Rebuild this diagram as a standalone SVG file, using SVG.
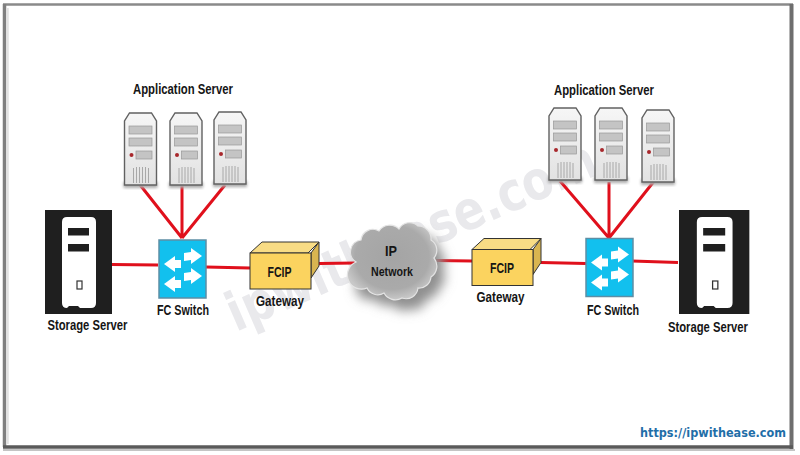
<svg xmlns="http://www.w3.org/2000/svg" xmlns:xlink="http://www.w3.org/1999/xlink" width="800" height="455" viewBox="0 0 800 455">
<style>
.lbl{font-family:"Liberation Sans",Arial,sans-serif;font-weight:700;font-size:15.500px;fill:#151515;text-anchor:middle}
.link{stroke:#e0101c;stroke-width:3;fill:none}
.bar{fill:#c4c4c4;stroke:#999;stroke-width:.7}
</style>
<defs>
<filter id="blur" x="-40%" y="-40%" width="180%" height="180%"><feGaussianBlur stdDeviation="6"/></filter>
<filter id="sblur" x="-30%" y="-30%" width="160%" height="160%"><feGaussianBlur stdDeviation="1.500"/></filter>
<linearGradient id="srv" x1="0" y1="0" x2="0" y2="1"><stop offset="0" stop-color="#f6f6f6"/><stop offset="1" stop-color="#e2e2e2"/></linearGradient>
<radialGradient id="cl" cx="50%" cy="45%" r="55%"><stop offset="0" stop-color="#a4a4a4"/><stop offset=".75" stop-color="#aaaaaa"/><stop offset="1" stop-color="#c8c8c8"/></radialGradient>
<g id="server">
<rect x="-1" y="69" width="34" height="6" fill="#aaa" filter="url(#sblur)"/>
<path d="M5 0H27L32 8V72H0V8Z" fill="url(#srv)" stroke="#616161" stroke-width="1.400"/>
<rect class="bar" x="4.500" y="13" width="23" height="8"/>
<rect class="bar" x="4.500" y="25" width="23" height="8"/>
<rect class="bar" x="11.500" y="38" width="16" height="8"/>
<circle cx="7" cy="42" r="2" fill="#a8282c"/>
<path d="M9 55V70M12 54V70M15 54V70M18 54V70M21 54V70M24 55V70" stroke="#a8a8a8" stroke-width="1"/>
</g>
<g id="storage">
<rect x="0" y="0" width="67" height="104" fill="#1f1f1f"/>
<path d="M22 98L24 96H33L35 98H46Q51 98 51 93V12Q51 7 46 7H22Q17 7 17 12V93Q17 98 22 98Z" fill="#fff"/>
<rect x="23" y="18" width="21" height="7.500" fill="#1f1f1f"/>
<rect x="23" y="34" width="21" height="7.500" fill="#1f1f1f"/>
<rect x="32" y="71" width="5" height="8" fill="#fff" stroke="#333" stroke-width="1.200"/>
</g>
<g id="switch">
<rect x="0" y="0" width="47" height="58" fill="#12c0ee" stroke="#5d8ea5" stroke-width="1.500"/>
<path d="M43 16L32 8V12L25 13V21L32 20V24ZM5 24L16 16V20L22 20V28L16 28V32ZM43 36L32 28V32L25 33V41L32 40V44ZM5 44L16 36V40L22 40V48L16 48V52Z" fill="#fff"/>
</g>
<g id="gateway">
<path d="M0 11L12 0H69L58 11Z" fill="#f8dc85" stroke="#333" stroke-width="1"/>
<path d="M61 11L69 0V24L61 36Z" fill="#d9b550" stroke="#333" stroke-width="1"/>
<rect x="0" y="11" width="61" height="36" fill="#fbd35f" stroke="#333" stroke-width="1"/>
</g>
<path id="cloudP" d="M356 262A12 12 0 0 1 361 240A12 12 0 0 1 379 231A13 13 0 0 1 399 229A12 12 0 0 1 418 226A13 13 0 0 1 431 240A12 12 0 0 1 434 258A13 13 0 0 1 431 277A12 12 0 0 1 418 288A12 12 0 0 1 402 298A13 13 0 0 1 384 293A12 12 0 0 1 367 288A13 13 0 0 1 356 262Z"/>
</defs>
<rect width="800" height="455" fill="#fff"/>
<path d="M3 4.500H793" stroke="#8a8a8a" stroke-width="2.500" fill="none"/>
<path d="M4.500 4V447" stroke="#808080" stroke-width="3.500" fill="none"/>
<path d="M7.500 8V444" stroke="#e2e2e2" stroke-width="2.500" fill="none"/>
<path d="M791.500 4V449" stroke="#6e6e6e" stroke-width="4" fill="none"/>
<path d="M3 447H793" stroke="#5a5a5a" stroke-width="3.500" fill="none"/>
<path d="M3 450H795" stroke="#c4c4c4" stroke-width="2" fill="none"/>
<text id="watermark" x="0" y="0" transform="translate(236 332) rotate(-23.500)" font-family="DejaVu Sans,sans-serif" font-weight="700" font-size="54" fill="#e9e9ec" textLength="398" lengthAdjust="spacingAndGlyphs">ipwithease.com</text>
<g id="connectors">
<path class="link" d="M112 264.500L158 265"/>
<path class="link" d="M206 267L250 268"/>
<path class="link" d="M319 263.500L355 263"/>
<path class="link" d="M435 260.500L472 261"/>
<path class="link" d="M541 262.500L586 263.500"/>
<path class="link" d="M632 261L678 262.500"/>
<path class="link" d="M137 181L182 238M182 182V238M225 185L182 238"/>
<path class="link" d="M560 181L609 238M609 182V238M655 180L609 238"/>
</g>
<g id="app-left"><use xlink:href="#server" href="#server" x="124.500" y="113"/><use xlink:href="#server" href="#server" x="170" y="113"/><use xlink:href="#server" href="#server" x="214" y="112"/>
<text class="lbl" x="183" y="94" textLength="100" lengthAdjust="spacingAndGlyphs">Application Server</text></g>
<g id="app-right"><use xlink:href="#server" href="#server" x="549" y="108"/><use xlink:href="#server" href="#server" x="595" y="108"/><use xlink:href="#server" href="#server" x="642" y="110"/>
<text class="lbl" x="604" y="95" textLength="100" lengthAdjust="spacingAndGlyphs">Application Server</text></g>
<g id="storage-left"><use xlink:href="#storage" href="#storage" x="45" y="210"/>
<text class="lbl" x="87.500" y="330" textLength="80" lengthAdjust="spacingAndGlyphs">Storage Server</text></g>
<g id="storage-right"><use xlink:href="#storage" href="#storage" transform="translate(679 210) scale(1.050 1)"/>
<text class="lbl" x="708" y="332" textLength="80" lengthAdjust="spacingAndGlyphs">Storage Server</text></g>
<g id="switch-left"><use xlink:href="#switch" href="#switch" x="159" y="240"/>
<text class="lbl" x="183" y="315" textLength="52" lengthAdjust="spacingAndGlyphs">FC Switch</text></g>
<g id="switch-right"><use xlink:href="#switch" href="#switch" x="586" y="238.500"/>
<text class="lbl" x="613" y="315" textLength="52" lengthAdjust="spacingAndGlyphs">FC Switch</text></g>
<g id="gateway-left"><use xlink:href="#gateway" href="#gateway" x="250" y="242"/>
<text class="lbl" x="279.500" y="277" textLength="24" lengthAdjust="spacingAndGlyphs">FCIP</text>
<text class="lbl" x="280" y="306" textLength="48" lengthAdjust="spacingAndGlyphs">Gateway</text></g>
<g id="gateway-right"><use xlink:href="#gateway" href="#gateway" x="472" y="238.500"/>
<text class="lbl" x="502" y="273" textLength="24" lengthAdjust="spacingAndGlyphs">FCIP</text>
<text class="lbl" x="500.500" y="302" textLength="48" lengthAdjust="spacingAndGlyphs">Gateway</text></g>
<g id="ip-network">
<use xlink:href="#cloudP" href="#cloudP" transform="translate(8 11)" fill="#8f8f8f" filter="url(#blur)"/>
<use xlink:href="#cloudP" href="#cloudP" fill="url(#cl)" stroke="#e4e4e4" stroke-width="1.200"/>
<text class="lbl" x="391" y="256" style="font-size:15px" textLength="12" lengthAdjust="spacingAndGlyphs">IP</text>
<text class="lbl" x="392" y="276" style="font-size:13px" textLength="42" lengthAdjust="spacingAndGlyphs">Network</text>
</g>
<text id="url" x="786" y="437" text-anchor="end" font-family="DejaVu Sans,sans-serif" font-weight="700" font-size="12" fill="#1f6ea8" textLength="146" lengthAdjust="spacingAndGlyphs">https://ipwithease.com</text>
</svg>
